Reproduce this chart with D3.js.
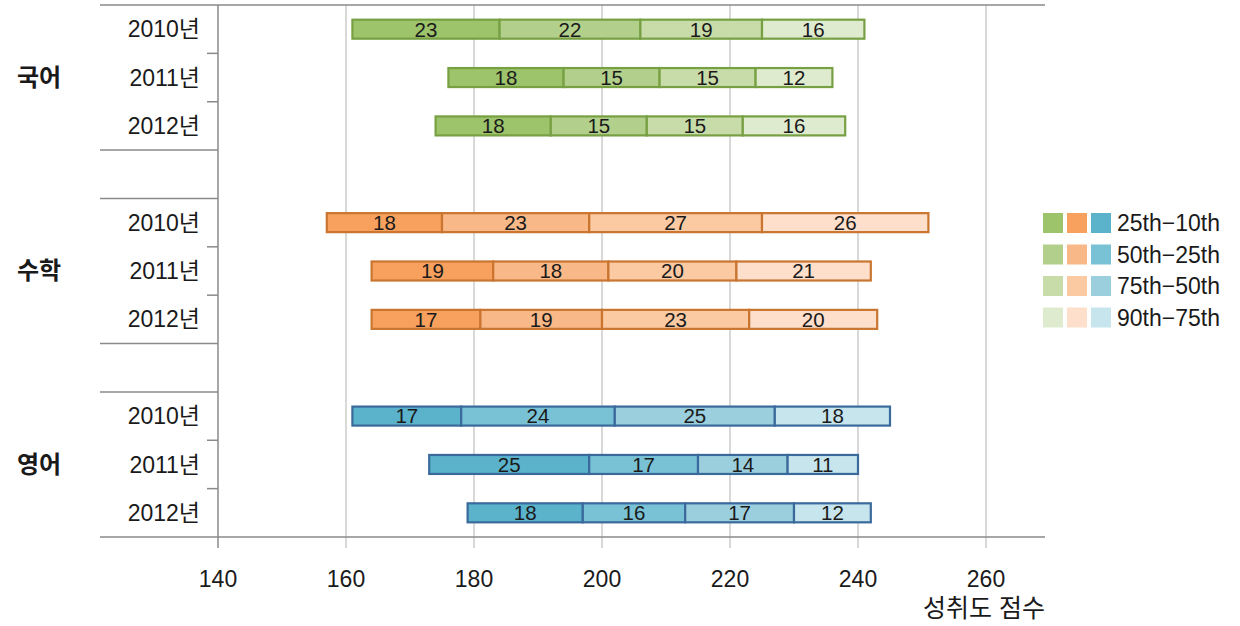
<!DOCTYPE html>
<html><head><meta charset="utf-8">
<script src="https://cdn.jsdelivr.net/npm/d3@7"></script>
<style>
body{margin:0;background:#fff;}
text{font-family:"Liberation Sans","Noto Sans CJK KR",sans-serif;fill:#1a1a1a;}
</style></head>
<body><svg id="c" width="1240" height="626"></svg>
<script>
const subjects = ["국어","수학","영어"];
const years = ["2010년","2011년","2012년"];
const starts = [[161,176,174],[157,164,164],[161,173,179]];
const koreanSegs = [[23,22,19,16],[18,15,15,12],[18,15,15,16]];
const mathSegs = [[18,23,27,26],[19,18,20,21],[17,19,23,20]];
const englishSegs = [[17,24,25,18],[25,17,14,11],[18,16,17,12]];
const segmentsBySubject = [koreanSegs, mathSegs, englishSegs];
const legendLabels = ["25th\u221210th","50th\u221225th","75th\u221250th","90th\u221275th"];
const xTicks = [140,160,180,200,220,240,260];
const axisTitle = "성취도 점수";

const palettes = [
  ["#9dc36b","#b3cf8c","#c8dca9","#dfebcf"],
  ["#f8a15e","#f9b887","#fbc9a2","#fddfcb"],
  ["#5ab3cb","#79c2d5","#9ccfde","#c6e5ed"]
];
const borders = ["#77a043","#c97530","#3a6a9c"];

const svg = d3.select("#c");
const x = d3.scaleLinear().domain([140,260]).range([218,986]);
const plotLeft = 218, plotRight = 1045, outerLeft = 100;

const rows = [];
subjects.forEach((s,i)=>{
  years.forEach((y,j)=>rows.push(s+"|"+y));
  if(i<subjects.length-1) rows.push("gap"+i);
});
const yb = d3.scaleBand().domain(rows).range([5,537]);
const bw = yb.bandwidth();

const g = svg.append("g");
g.selectAll("line.grid").data(xTicks.slice(1)).enter().append("line")
  .attr("x1",d=>x(d)).attr("x2",d=>x(d)).attr("y1",5).attr("y2",548)
  .attr("stroke","#c4c4c4").attr("stroke-width",1.3);
g.append("line").attr("x1",plotLeft).attr("x2",plotLeft).attr("y1",5).attr("y2",548)
  .attr("stroke","#8a8a8a").attr("stroke-width",1.5);
g.append("line").attr("x1",outerLeft).attr("x2",plotRight).attr("y1",5).attr("y2",5).attr("stroke","#8a8a8a").attr("stroke-width",1.5);
g.append("line").attr("x1",outerLeft).attr("x2",plotRight).attr("y1",537).attr("y2",537).attr("stroke","#8a8a8a").attr("stroke-width",1.5);
subjects.forEach((s,i)=>{
  if(i<subjects.length-1){
    const gy = yb("gap"+i);
    [gy, gy+bw].forEach(yy=>{
      g.append("line").attr("x1",outerLeft).attr("x2",plotLeft).attr("y1",yy).attr("y2",yy).attr("stroke","#8a8a8a").attr("stroke-width",1.5);
    });
  }
  [1,2].forEach(j=>{
    const yy = yb(s+"|"+years[j]);
    g.append("line").attr("x1",207).attr("x2",plotLeft).attr("y1",yy).attr("y2",yy).attr("stroke","#8a8a8a").attr("stroke-width",1.5);
  });
  years.forEach(yr=>{
    g.append("text").attr("x",200).attr("y",yb(s+"|"+yr)+bw/2).attr("dy","0.35em")
      .attr("text-anchor","end").attr("font-size",23).text(yr);
  });
  g.append("text").attr("x",17).attr("y",yb(s+"|"+years[1])+bw/2).attr("dy","0.35em")
    .attr("font-size",24).attr("font-weight","bold").attr("font-family","Noto Sans CJK KR").text(s);
});

g.selectAll("text.tick").data(xTicks).enter().append("text")
  .attr("x",d=>x(d)).attr("y",587).attr("text-anchor","middle").attr("font-size",23).text(d=>d);
g.append("text").attr("x",1045).attr("y",617).attr("text-anchor","end").attr("font-size",25).text(axisTitle);

const bh = 19;
subjects.forEach((s,i)=>{
  years.forEach((yr,j)=>{
    const segs = segmentsBySubject[i][j];
    let cum = starts[i][j];
    const yc = yb(s+"|"+yr)+bw/2;
    segs.forEach((v,k)=>{
      const x0 = x(cum), x1 = x(cum+v);
      g.append("rect").attr("x",x0).attr("y",yc-bh/2).attr("width",x1-x0).attr("height",bh)
        .attr("fill",palettes[i][k]).attr("stroke",borders[i]).attr("stroke-width",2.2);
      g.append("text").attr("x",(x0+x1)/2).attr("y",yc).attr("dy","0.36em")
        .attr("text-anchor","middle").attr("font-size",20.5).text(v);
      cum += v;
    });
  });
});

const lg = svg.append("g");
legendLabels.forEach((lab,k)=>{
  const ly = 213 + k*31.5;
  palettes.forEach((p,i)=>{
    lg.append("rect").attr("x",1043+i*24).attr("y",ly).attr("width",20).attr("height",20).attr("fill",p[k]);
  });
  lg.append("text").attr("x",1117).attr("y",ly+10).attr("dy","0.36em").attr("font-size",23).text(lab);
});
</script></body></html>
